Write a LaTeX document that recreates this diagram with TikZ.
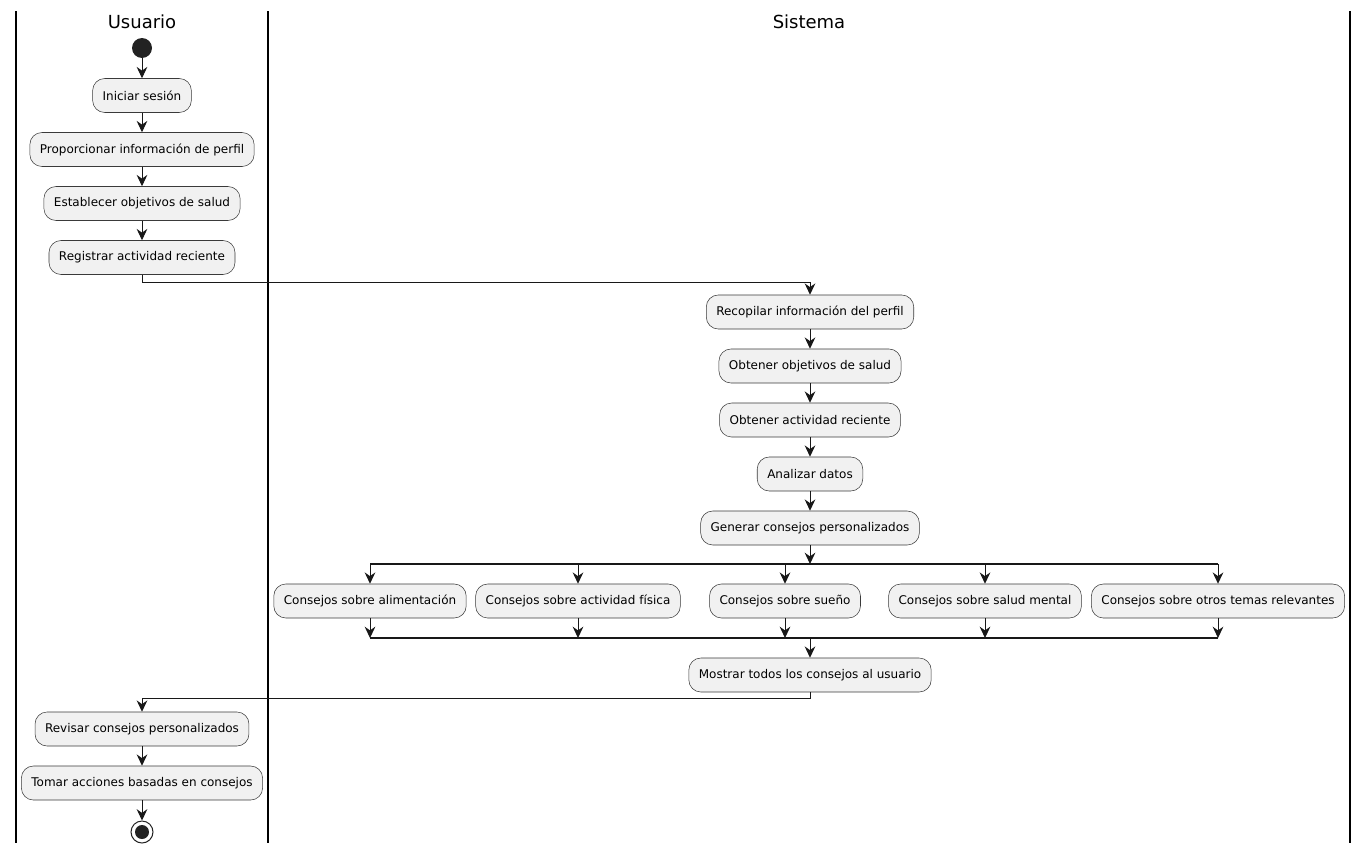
\documentclass[tikz,border=0pt]{standalone}
\usepackage{fontspec}
\setmainfont{DejaVu Sans}
\usetikzlibrary{arrows.meta}
\definecolor{boxfill}{HTML}{F1F1F1}
\definecolor{ink}{HTML}{181818}
\definecolor{edge}{HTML}{3A3A3A}
\definecolor{dot}{HTML}{222222}
\begin{document}
\begin{tikzpicture}[x=0.75pt,y=-0.75pt,
  act/.style={draw=edge,fill=boxfill,line width=0.4pt,rounded corners=9pt,
    minimum height=25.5pt,inner xsep=7.5pt,inner ysep=0pt,
    font=\fontsize{9pt}{11pt}\selectfont,text=black},
  lanetitle/.style={font=\fontsize{13.5pt}{16pt}\selectfont,text=black},
  lane/.style={line width=1.5pt,black},
  arr/.style={draw=ink,line width=0.75pt,-{Stealth[length=8.5pt,width=8pt,inset=2.8pt]}},
  bar/.style={draw=ink,line width=1.5pt},
  startdot/.style={circle,fill=dot,minimum size=15pt,inner sep=0pt},
  enddot/.style={circle,draw=dot,fill=white,line width=0.75pt,minimum size=16.5pt,inner sep=0pt},
  endcore/.style={circle,fill=dot,minimum size=10.5pt,inner sep=0pt}]
\useasboundingbox (0,0) rectangle (1369,853);

% swimlane separators
\draw[lane] (16,11) -- (16,843);
\draw[lane] (268,11) -- (268,843);
\draw[lane] (1350,11) -- (1350,843);
\node[lanetitle] (tU) at (142,22) {Usuario};
\node[lanetitle] (tS) at (809,22) {Sistema};

% user lane, first part
\node[startdot] (start) at (142,48) {};
\node[act] (ini) at (142,95.5) {Iniciar sesión};
\node[act] (prop) at (142,149.5) {Proporcionar información de perfil};
\node[act] (est) at (142,203.5) {Establecer objetivos de salud};
\node[act] (reg) at (142,257.5) {Registrar actividad reciente};

% system lane
\node[act] (rec) at (810,312) {Recopilar información del perfil};
\node[act] (obj) at (810,366) {Obtener objetivos de salud};
\node[act] (act) at (810,420) {Obtener actividad reciente};
\node[act] (ana) at (810,474) {Analizar datos};
\node[act] (gen) at (810,528) {Generar consejos personalizados};

% parallel branches
\node[act] (ali) at (370,601) {Consejos sobre alimentación};
\node[act] (fis) at (578,601) {Consejos sobre actividad física};
\node[act] (sue) at (785,601) {Consejos sobre sueño};
\node[act] (men) at (985,601) {Consejos sobre salud mental};
\node[act] (otr) at (1218,601) {Consejos sobre otros temas relevantes};

\node[act] (mos) at (810,675) {Mostrar todos los consejos al usuario};

% user lane, last part
\node[act] (rev) at (142,729) {Revisar consejos personalizados};
\node[act] (tom) at (142,783) {Tomar acciones basadas en consejos};
\node[enddot] (stop) at (142,832) {};
\node[endcore] (stopc) at (142,832) {};

% helper levels for bends and bars
\coordinate (turn1) at (0,282);
\coordinate (fork) at (0,564);
\coordinate (join) at (0,638);
\coordinate (turn2) at (0,698);

% flow
\draw[arr] (start) -- (ini);
\draw[arr] (ini) -- (prop);
\draw[arr] (prop) -- (est);
\draw[arr] (est) -- (reg);
\draw[arr] (reg.south) -- (reg.south |- turn1) -| (rec.north);
\draw[arr] (rec) -- (obj);
\draw[arr] (obj) -- (act);
\draw[arr] (act) -- (ana);
\draw[arr] (ana) -- (gen);

% fork
\draw[arr] (gen.south) -- (gen.south |- fork);
\draw[bar] (ali.north |- fork) -- (otr.north |- fork);
\foreach \b in {ali,fis,sue,men,otr}
  \draw[arr] (\b.north |- fork) -- (\b.north);

% join
\foreach \b in {ali,fis,sue,men,otr}
  \draw[arr] (\b.south) -- (\b.south |- join);
\draw[bar] (ali.south |- join) -- (otr.south |- join);
\draw[arr] (mos.north |- join) -- (mos.north);

\draw[arr] (mos.south) -- (mos.south |- turn2) -| (rev.north);
\draw[arr] (rev) -- (tom);
\draw[arr] (tom) -- (stop);
\end{tikzpicture}
\end{document}
